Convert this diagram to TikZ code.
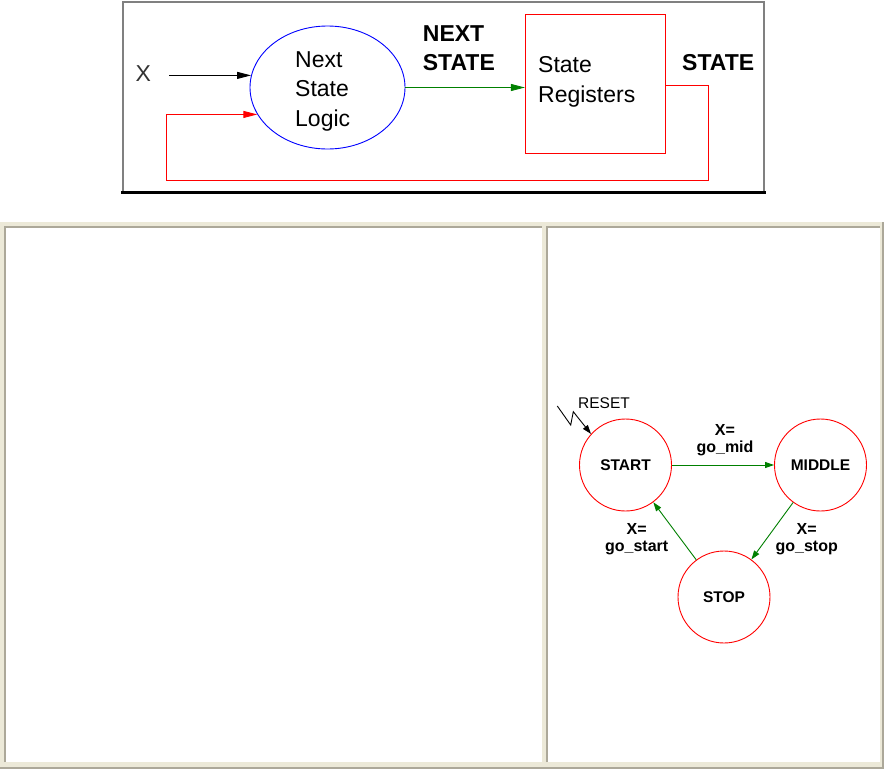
\documentclass[tikz,border=0pt]{standalone}
\usepackage{fontspec}
\setmainfont{Liberation Sans}
\usetikzlibrary{arrows.meta,shapes.geometric}
\definecolor{xpbeige}{HTML}{ECE9D8}
\definecolor{xpgray}{HTML}{ACA899}
\definecolor{darkgreen}{HTML}{008000}

\begin{document}
\begin{tikzpicture}[x=1pt, y=-1pt,
    bigtext/.style={font=\fontsize{23}{29.5}\selectfont, inner sep=0pt, align=left},
    bigbold/.style={font=\fontsize{23}{29.5}\selectfont\bfseries, inner sep=0pt, align=left},
    smalltext/.style={font=\fontsize{16}{17}\selectfont\bfseries, inner sep=0pt, align=center},
    fsmstate/.style={circle, draw=red, wire, minimum size=92pt, inner sep=0pt, font=\fontsize{15.5}{16}\selectfont\bfseries},
    wire/.style={line width=0.9pt},
    bigtip/.style={-{Triangle[length=14pt,width=7pt]}},
    smalltip/.style={-{Triangle[length=9pt,width=6pt]}}]
  \useasboundingbox (0,0) rectangle (884,769);

  % 上方框
  \draw[gray, line width=1.5pt] (123,192) -- (123,2) -- (764,2) -- (764,192);
  \draw[line width=3.5pt] (121,192.5) -- (766,192.5);

  \node[ellipse, draw=blue, wire, minimum width=155pt, minimum height=123pt, inner sep=0pt] (nsl) at (327.5,87.5) {};
  \node[bigtext, anchor=west] (nsltext) at (295,91) {Next\\State\\Logic};
  \node[draw=red, wire, minimum width=140pt, minimum height=139.7pt, inner sep=0pt] (reg) at (595.3,83.9) {};
  \node[bigtext, anchor=west] (regtext) at (538,81.7) {State\\Registers};
  \node[bigbold, anchor=west] (nextlbl) at (422.7,48) {NEXT\\STATE};
  \node[bigbold, anchor=west] (statelbl) at (682,62.3) {STATE};
  \node[bigtext, text=black!80] (xin) at (143.3,74) {X};

  % 连线
  \draw[wire, bigtip, shorten <=18pt] (xin.east |- nsl.171) -- (nsl.171);
  \draw[darkgreen, wire, bigtip] (nsl.east) -- (nsl.east -| reg.west);
  \coordinate (fb1) at (708.3,180);
  \coordinate (fb2) at (166,180);
  \draw[red, wire, bigtip] ([yshift=-2pt]reg.east) -| (fb1) -- (fb2) |- (nsl.201);

  % 下方面板
  \fill[xpbeige] (0,222) rectangle (884,769);
  \draw[xpgray, line width=1.5pt] (0,768.2) -- (883.2,768.2) -- (883.2,222);
  \fill[white] (4,226) rectangle (542,762);
  \fill[white] (546,226) rectangle (880,762);
  \draw[xpgray, line width=2pt] (4.5,762) -- (4.5,226.5) -- (542,226.5);
  \draw[xpgray, line width=2pt] (546.5,762) -- (546.5,226.5) -- (880,226.5);

  % 状态图
  \node[fsmstate] (start) at (625.5,465) {START};
  \node[fsmstate] (middle) at (820.5,465) {MIDDLE};
  \node[fsmstate] (stop) at (724,597) {STOP};
  \draw[darkgreen, wire, smalltip] (start) -- (middle);
  \draw[darkgreen, wire, smalltip] (middle) -- (stop);
  \draw[darkgreen, wire, smalltip] (stop) -- (start);
  \node[smalltext] (lmid) at (725,440) {X=\\go\_mid};
  \node[smalltext] (lstop) at (806.7,539) {X=\\go\_stop};
  \node[smalltext] (lstart) at (636.7,539) {X=\\go\_start};

  % 复位
  \node[font=\fontsize{15.5}{16}\selectfont, inner sep=0pt] (reset) at (604,403) {RESET};
  \coordinate (rz) at (557.3,406);
  \draw[wire, smalltip] (rz) -- (570.7,425) -- (573.3,411.7) -- (start.138);
\end{tikzpicture}
\end{document}
